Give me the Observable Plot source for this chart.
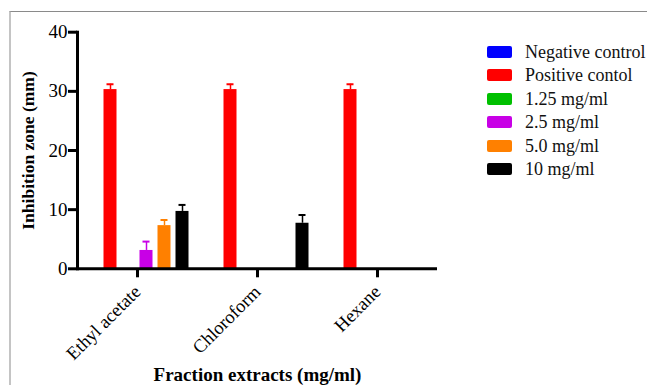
<!DOCTYPE html>
<html>
<head>
<meta charset="utf-8">
<script src="https://cdn.jsdelivr.net/npm/d3@7"></script>
<script src="https://cdn.jsdelivr.net/npm/@observablehq/plot@0.6"></script>
<style>
  body { margin: 0; background: #fff; }
  #wrap { position: relative; width: 647px; height: 385px; overflow: hidden; background: #fff; font-family: 'Liberation Serif'; }
  #border { position: absolute; left: 9px; top: 11px; right: -2px; bottom: -2px; border-top: 1px solid #8a8a8a; border-left: 2px solid #c4c4c4; }
  #chart { position: absolute; left: 0; top: 0; }
  #legend { position: absolute; left: 487px; top: 40px; font-family: 'Liberation Serif'; }
  .row { display: flex; align-items: center; height: 23.5px; }
  .sw { width: 25px; height: 12px; border-radius: 2px; margin-right: 13px; }
  .lab { font-family: 'Liberation Serif'; font-size: 18px; line-height: 1; color: #111; white-space: nowrap; }
</style>
</head>
<body>
<div id="wrap">
  <div id="border"></div>
  <div id="chart"></div>
  <div id="legend"></div>
</div>
<script>
// ---- data ----
const groups = ["Ethyl acetate", "Chloroform", "Hexane"];
const series = ["Negative control", "Positive contol", "1.25 mg/ml", "2.5 mg/ml", "5.0 mg/ml", "10 mg/ml"];
const colors = ["#0000ff", "#ff0000", "#00c000", "#c800e6", "#ff8000", "#000000"];
// values per series, in the order of groups
const negativeControl = [0, 0, 0];
const positiveControl = [30.3, 30.3, 30.3];
const conc125 = [0, 0, 0];
const conc25 = [3.1, 0, 0];
const conc50 = [7.3, 0, 0];
const conc10 = [9.7, 7.7, 0];
// upper error bar per series
const errNegative = [0, 0, 0];
const errPositive = [0.9, 0.9, 0.9];
const err125 = [0, 0, 0];
const err25 = [1.5, 0, 0];
const err50 = [0.95, 0, 0];
const err10 = [1.1, 1.4, 0];
const yTicks = [0, 10, 20, 30, 40];

const valueSets = [negativeControl, positiveControl, conc125, conc25, conc50, conc10];
const errSets = [errNegative, errPositive, err125, err25, err50, err10];

const table = [];
series.forEach((s, i) => {
  groups.forEach((g, j) => {
    table.push({group: g, series: s, value: valueSets[i][j], err: errSets[i][j]});
  });
});
const errTable = table.filter(d => d.err > 0);

const FONT = "Liberation Serif";

const plot = Plot.plot({
  width: 647,
  height: 385,
  marginLeft: 76.5,
  marginRight: 210,
  marginTop: 31.7,
  marginBottom: 116.7,
  style: {fontFamily: FONT, fontSize: "19px", color: "#000", background: "transparent"},
  fx: {domain: groups, padding: 0},
  x: {domain: series, paddingInner: 0.286, paddingOuter: 0.467, axis: null},
  y: {domain: [0, 40], axis: null},
  color: {domain: series, range: colors},
  marks: [
    Plot.barY(table, {fx: "group", x: "series", y: "value", fill: "series"}),
    Plot.ruleX(errTable, {fx: "group", x: "series", y1: "value", y2: d => d.value + d.err,
      stroke: "series", strokeWidth: 1.5}),
    Plot.tickY(errTable, {fx: "group", x: "series", y: d => d.value + d.err,
      stroke: "series", strokeWidth: 2, insetLeft: 3, insetRight: 3}),
    Plot.ruleY([0], {stroke: "#000", strokeWidth: 3}),
    Plot.frame({anchor: "left", facetAnchor: "left", stroke: "#000", strokeWidth: 3}),
    Plot.axisY({ticks: yTicks, tickSize: 9, tickPadding: 1, strokeWidth: 3, fontSize: 19,
      label: "Inhibition zone (mm)", labelAnchor: "center", labelArrow: "none", labelOffset: 56}),
    Plot.axisFx({anchor: "bottom", tickSize: 9, tickPadding: 11, tickRotate: -45, strokeWidth: 3, fontSize: 18.5,
      label: "Fraction extracts (mg/ml)", labelAnchor: "center", labelArrow: "none", labelOffset: 112})
  ]
});

plot.querySelectorAll("text").forEach(t => t.setAttribute("font-family", FONT));
plot.querySelectorAll("[aria-label='y-axis label'] text").forEach(t => {
  t.setAttribute("font-weight", "bold");
  t.setAttribute("font-size", "17.5");
});
plot.querySelectorAll("[aria-label='fx-axis label'] text").forEach(t => {
  t.setAttribute("font-weight", "bold");
  t.setAttribute("font-size", "19");
});
document.getElementById("chart").appendChild(plot);

// legend
const legend = document.getElementById("legend");
series.forEach((s, i) => {
  const row = document.createElement("div");
  row.className = "row";
  const sw = document.createElement("div");
  sw.className = "sw";
  sw.style.background = colors[i];
  const lab = document.createElement("span");
  lab.className = "lab";
  lab.style.fontFamily = FONT;
  lab.textContent = s;
  row.appendChild(sw);
  row.appendChild(lab);
  legend.appendChild(row);
});
</script>
</body>
</html>
